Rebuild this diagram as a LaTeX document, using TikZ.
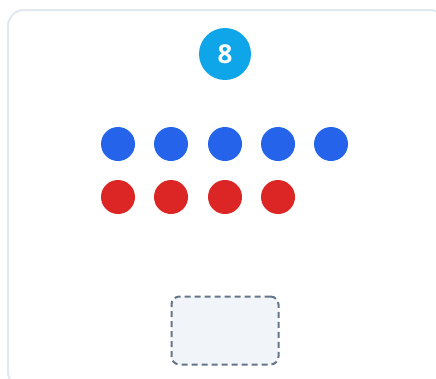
\documentclass[tikz,border=0pt]{standalone}
\usepackage{fontspec}
\setmainfont{Open Sans}
\definecolor{cardborder}{HTML}{E2E8F0}
\definecolor{badge}{HTML}{0EA5E9}
\definecolor{bluedot}{HTML}{2563EB}
\definecolor{reddot}{HTML}{DC2626}
\definecolor{slotfill}{HTML}{F1F5F9}
\definecolor{slotline}{HTML}{64748B}
\begin{document}
\begin{tikzpicture}[x=1pt,y=-1pt,
  dot/.style={circle,inner sep=0pt,minimum size=34pt},
  bdot/.style={dot,fill=bluedot},
  rdot/.style={dot,fill=reddot},
  badgestyle/.style={circle,fill=badge,inner sep=0pt,minimum size=52pt,text=white,font=\bfseries\fontsize{26}{30}\selectfont},
  slot/.style={draw=slotline,fill=slotfill,line width=2pt,dash pattern=on 6pt off 4pt,rounded corners=8pt,minimum width=107pt,minimum height=68pt,inner sep=0pt}]
\useasboundingbox (0,0) rectangle (436,378);
\draw[cardborder,line width=2pt,rounded corners=16pt,fill=white] (8,10) rectangle (446,388);
\node[badgestyle] (badge) at (225,54) {8};
\foreach \i/\x in {1/118,2/171,3/225,4/278,5/331}{
  \node[bdot] (b\i) at (\x,144) {};
}
\foreach \i/\x in {1/118,2/171,3/225,4/278}{
  \node[rdot] (r\i) at (\x,197) {};
}
\node[slot] (slot) at (225,330.5) {};
\end{tikzpicture}
\end{document}
